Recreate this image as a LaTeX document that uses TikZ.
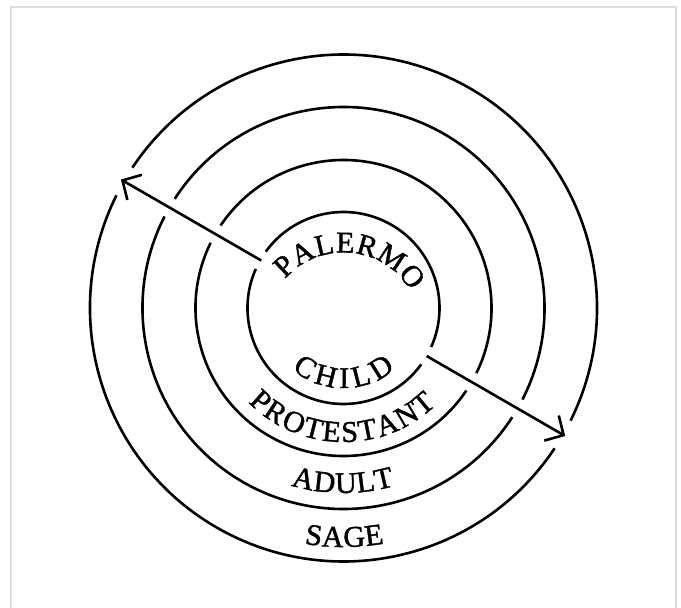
\documentclass[tikz,border=0pt]{standalone}
\usepackage{fontspec}
\setmainfont{Liberation Serif}
\newfontfamily\lblfam{Liberation Serif}[FakeBold=1.4]
\usetikzlibrary{arrows.meta,decorations.text}
\newcommand{\lblfont}{\lblfam\fontsize{30}{31}\selectfont}

\begin{document}
\begin{tikzpicture}[x=1pt, y=1pt,
        ring/.style={line width=2.6pt},
        ray/.style={line width=2.6pt, -{Straight Barb[length=14pt, width=29pt]}},
        frame/.style={draw=black!13, line width=1.5pt},
        curved/.style={decorate, decoration={text along path, text align={fit to path}, text={|\lblfont|#1}}}
    ]
    % page and frame
    \useasboundingbox (-343.5,-300) rectangle (337.5,308);
    \draw[frame] (-332.5,-300) -- (-332.5,301) -- (332.5,301) -- (332.5,-300);

    % rings, broken where the rays cross
    \foreach \r/\g in {96/6, 148/3.9, 201/2.9, 253.5/3.6}{
        \draw[ring] ({-30+\g}:\r) arc[start angle={-30+\g}, end angle={150-\g}, radius=\r];
        \draw[ring] ({150+\g}:\r) arc[start angle={150+\g}, end angle={330-\g}, radius=\r];
    }

    % rays
    \coordinate (in1) at (150:95);
    \coordinate (out1) at (150:257);
    \coordinate (in2) at (-30:96);
    \coordinate (out2) at (-30:256);
    \draw[ray] (in1) -- (out1);
    \draw[ray] (in2) -- (out2);

    % labels
    \path[curved=PALERMO, shift={(0,-22)}] (139:77.5) arc[start angle=139, end angle=30, radius=77.5];
    \path[curved=CHILD] (230:80) arc[start angle=230, end angle=310, radius=80];
    \path[curved=PROTESTANT] (224.7:134) arc[start angle=224.7, end angle=313.7, radius=134];
    \path[curved=ADULT] (253.5:185) arc[start angle=253.5, end angle=286, radius=185];
    \path[curved=SAGE] (260.6:239) arc[start angle=260.6, end angle=279.8, radius=239];
\end{tikzpicture}
\end{document}
